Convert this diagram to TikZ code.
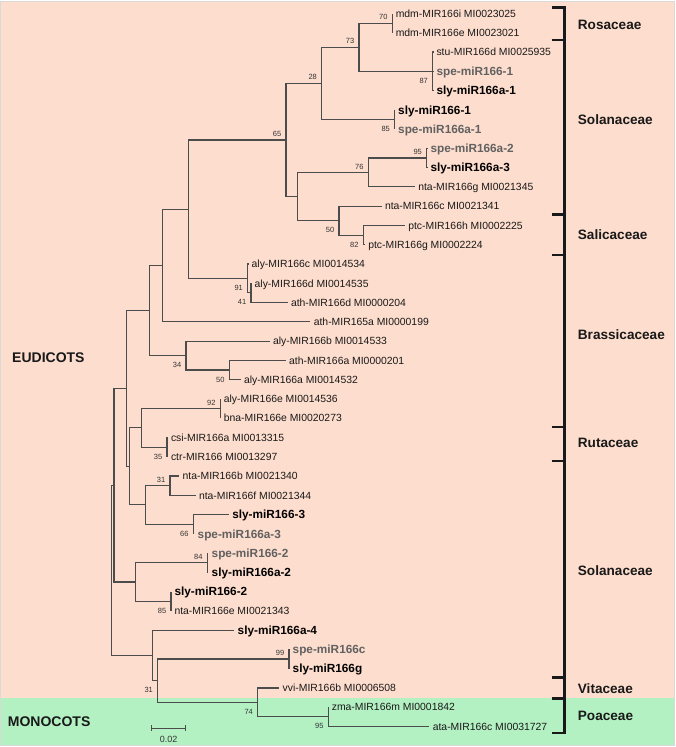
\documentclass[tikz,border=0pt]{standalone}
\usepackage{fontspec}
\setmainfont{Liberation Sans}
\definecolor{salmon}{RGB}{253,221,205}
\definecolor{mint}{RGB}{179,240,194}

\begin{document}
\begin{tikzpicture}
  [x=1pt,y=-1pt,
   brl/.style={draw=black!70,line width=1.1pt},
   brk/.style={draw=black!90,line width=2.4pt},
   leafn/.style={anchor=west,inner xsep=3.5pt,inner ysep=0pt,outer sep=0pt,text height=7.4pt,text depth=0pt,text=black!90,font=\fontsize{10.4}{12}\selectfont},
   sly/.style={leafn,text height=8.4pt,text=black,font=\fontsize{11.8}{14}\selectfont\bfseries},
   spe/.style={sly,text=black!62},
   bsn/.style={inner sep=0pt,text=black!80,font=\fontsize{7.5}{9}\selectfont},
   bsup/.style={bsn,xshift=-9pt,yshift=6pt},
   bsdn/.style={bsn,xshift=-9pt,yshift=-9.5pt},
   fam/.style={anchor=west,inner sep=0pt,text height=9.7pt,text depth=0pt,text=black!90,font=\fontsize{13.6}{16}\selectfont\bfseries},
   clade/.style={fam,text height=10pt,font=\fontsize{14}{16}\selectfont\bfseries}]

  \useasboundingbox (0,0) rectangle (675,747);
  \fill[white] (0,0) rectangle (675,747);
  \fill[salmon] (0.8,1.5) rectangle (673.5,698.3);
  \fill[mint] (0.8,698.3) rectangle (673.5,744.8);
  \draw[black!15,line width=0.6pt] (0.5,1.2) rectangle (673.8,745.1);

  \coordinate (root) at (111.5,570.3);
  \coordinate (nA) at (114,485.2);
  \coordinate (nV) at (126.5,388.4);
  \coordinate (nB3) at (149.3,310.5);
  \coordinate (nB2) at (162.7,265.5);
  \coordinate (nB1) at (188.3,209.2);
  \coordinate (n65) at (286,140);
  \coordinate (n28) at (321.7,83.4);
  \coordinate (n73) at (359,47.2);
  \coordinate (n70) at (392.3,23.1);
  \coordinate (n87) at (432.7,71.3);
  \coordinate (n85a) at (394.7,119.5);
  \coordinate (nS) at (297.7,196.6);
  \coordinate (n76) at (368.3,172.5);
  \coordinate (n95a) at (426.7,158);
  \coordinate (n50a) at (339,220.7);
  \coordinate (n82) at (363.3,235.1);
  \coordinate (n91) at (247.7,278.5);
  \coordinate (n41) at (251,292.9);
  \coordinate (n34) at (186,355.5);
  \coordinate (n50b) at (229.4,370);
  \coordinate (nU) at (129.3,466.4);
  \coordinate (nR) at (141.5,427.8);
  \coordinate (n92) at (220.4,408.5);
  \coordinate (n35) at (167,447.1);
  \coordinate (nT) at (145.7,504.9);
  \coordinate (n31a) at (170,485.6);
  \coordinate (n66) at (193.3,524.2);
  \coordinate (nW) at (135.7,582);
  \coordinate (n84) at (207.3,562.7);
  \coordinate (n85b) at (171,601.2);
  \coordinate (nX) at (152.7,655.4);
  \coordinate (n31b) at (157.7,680.7);
  \coordinate (n99) at (289,659);
  \coordinate (n74) at (257.7,702.4);
  \coordinate (n95b) at (328.3,716.9);

  \node[leafn] (t1) at (392.3,13.5) {mdm-MIR166i MI0023025};
  \node[leafn] (t2) at (392.3,32.8) {mdm-MIR166e MI0023021};
  \node[leafn] (t3) at (433,52) {stu-MIR166d MI0025935};
  \node[spe] (t4) at (433,71.3) {spe-miR166-1};
  \node[sly] (t5) at (433,90.6) {sly-miR166a-1};
  \node[sly] (t6) at (394.7,109.9) {sly-miR166-1};
  \node[spe] (t7) at (394.7,129.1) {spe-miR166a-1};
  \node[spe] (t8) at (427,148.4) {spe-miR166a-2};
  \node[sly] (t9) at (427,167.7) {sly-miR166a-3};
  \node[leafn] (t10) at (414.8,186.9) {nta-MIR166g MI0021345};
  \node[leafn] (t11) at (381.5,206.2) {nta-MIR166c MI0021341};
  \node[leafn] (t12) at (404.8,225.5) {ptc-MIR166h MI0002225};
  \node[leafn] (t13) at (364.8,244.7) {ptc-MIR166g MI0002224};
  \node[leafn] (t14) at (248.2,264) {aly-MIR166c MI0014534};
  \node[leafn] (t15) at (251.2,283.3) {aly-MIR166d MI0014535};
  \node[leafn] (t16) at (287.5,302.6) {ath-MIR166d MI0000204};
  \node[leafn] (t17) at (310.3,321.8) {ath-MIR165a MI0000199};
  \node[leafn] (t18) at (269.5,341.1) {aly-MIR166b MI0014533};
  \node[leafn] (t19) at (285.7,360.4) {ath-MIR166a MI0000201};
  \node[leafn] (t20) at (240.5,379.6) {aly-MIR166a MI0014532};
  \node[leafn] (t21) at (220.4,398.9) {aly-MIR166e MI0014536};
  \node[leafn] (t22) at (220.4,418.2) {bna-MIR166e MI0020273};
  \node[leafn] (t23) at (167.5,437.4) {csi-MIR166a MI0013315};
  \node[leafn] (t24) at (167.5,456.7) {ctr-MIR166 MI0013297};
  \node[leafn] (t25) at (179.2,476) {nta-MIR166b MI0021340};
  \node[leafn] (t26) at (195.5,495.3) {nta-MIR166f MI0021344};
  \node[sly] (t27) at (228.8,514.5) {sly-miR166-3};
  \node[spe] (t28) at (194.2,533.8) {spe-miR166a-3};
  \node[spe] (t29) at (208.2,553.1) {spe-miR166-2};
  \node[sly] (t30) at (208.2,572.3) {sly-miR166a-2};
  \node[sly] (t31) at (171,591.6) {sly-miR166-2};
  \node[leafn] (t32) at (171,610.9) {nta-MIR166e MI0021343};
  \node[sly] (t33) at (234.2,630.1) {sly-miR166a-4};
  \node[spe] (t34) at (289.2,649.4) {spe-miR166c};
  \node[sly] (t35) at (289.2,668.7) {sly-miR166g};
  \node[leafn] (t36) at (279.2,688) {vvi-MIR166b MI0006508};
  \node[leafn] (t37) at (328.3,707.2) {zma-MIR166m MI0001842};
  \node[leafn] (t38) at (429.3,726.5) {ata-MIR166c MI0031727};

  \foreach \p/\c in {root/nA,root/nX,nA/nV,nA/nW,nV/nB3,nV/nU,nB3/nB2,nB3/n34,
    nB2/nB1,nB1/n65,nB1/n91,n65/n28,n65/nS,n28/n73,n28/n85a,n73/n70,n73/n87,
    nS/n76,nS/n50a,n76/n95a,n50a/n82,n91/n41,n34/n50b,nU/nR,nU/nT,nR/n92,nR/n35,
    nT/n31a,nT/n66,nW/n84,nW/n85b,nX/n31b,n31b/n99,n31b/n74,n74/n95b}
    \draw[brl] (\p) |- (\c);
  \foreach \p/\c in {n70/t1,n70/t2,n87/t3,n87/t4,n87/t5,n85a/t6,n85a/t7,n95a/t8,
    n95a/t9,n76/t10,n50a/t11,n82/t12,n82/t13,n91/t14,n41/t15,n41/t16,nB2/t17,
    n34/t18,n50b/t19,n50b/t20,n92/t21,n92/t22,n35/t23,n35/t24,n31a/t25,n31a/t26,
    n66/t27,n66/t28,n84/t29,n84/t30,n85b/t31,n85b/t32,nX/t33,n99/t34,n99/t35,
    n74/t36,n95b/t37,n95b/t38}
    \draw[brl] (\p) |- (\c.west);

  \node[bsup] (b70) at (n70) {70};
  \node[bsup] (b73) at (n73) {73};
  \node[bsdn] (b87) at (n87) {87};
  \node[bsup] (b28) at (n28) {28};
  \node[bsdn] (b85a) at (n85a) {85};
  \node[bsup] (b65) at (n65) {65};
  \node[bsup] (b76) at (n76) {76};
  \node[bsup] (b95a) at (n95a) {95};
  \node[bsdn] (b50a) at (n50a) {50};
  \node[bsdn] (b82) at (n82) {82};
  \node[bsdn] (b91) at (n91) {91};
  \node[bsdn] (b41) at (n41) {41};
  \node[bsdn] (b34) at (n34) {34};
  \node[bsdn] (b50b) at (n50b) {50};
  \node[bsup] (b92) at (n92) {92};
  \node[bsdn] (b35) at (n35) {35};
  \node[bsup] (b31a) at (n31a) {31};
  \node[bsdn] (b66) at (n66) {66};
  \node[bsup] (b84) at (n84) {84};
  \node[bsdn] (b85b) at (n85b) {85};
  \node[bsup] (b99) at (n99) {99};
  \node[bsdn] (b31b) at (n31b) {31};
  \node[bsdn] (b74) at (n74) {74};
  \node[bsdn] (b95b) at (n95b) {95};

  \draw[brk] (551.7,7.3) -- (564.3,7.3) -- (564.3,732.7) -- (551.7,732.7);
  \foreach \y in {40,214.3,255,426.7,461,677.3,698.3}
    \draw[brk] (551.7,\y) -- (564.3,\y);

  \node[fam] (rosa) at (577.7,24.3) {Rosaceae};
  \node[fam] (sola1) at (577.7,120) {Solanaceae};
  \node[fam] (sali) at (577.7,234.3) {Salicaceae};
  \node[fam] (bras) at (577.7,335) {Brassicaceae};
  \node[fam] (ruta) at (577.7,442.7) {Rutaceae};
  \node[fam] (sola2) at (577.7,571) {Solanaceae};
  \node[fam] (vita) at (577.7,688.3) {Vitaceae};
  \node[fam] (poa) at (577.7,716) {Poaceae};

  \node[clade] (eud) at (12,357.3) {EUDICOTS};
  \node[clade] (mono) at (7.7,721.7) {MONOCOTS};

  \coordinate (s0) at (151.7,728.3);
  \coordinate (s1) at (185.7,728.3);
  \draw[brl] (s0) -- (s1);
  \draw[brl] (151.7,725.3) -- (151.7,731.3);
  \draw[brl] (185.7,725.3) -- (185.7,731.3);
  \node[bsn,font=\fontsize{9}{10}\selectfont] (sbar) at (168.7,739.5) {0.02};

\end{tikzpicture}
\end{document}
